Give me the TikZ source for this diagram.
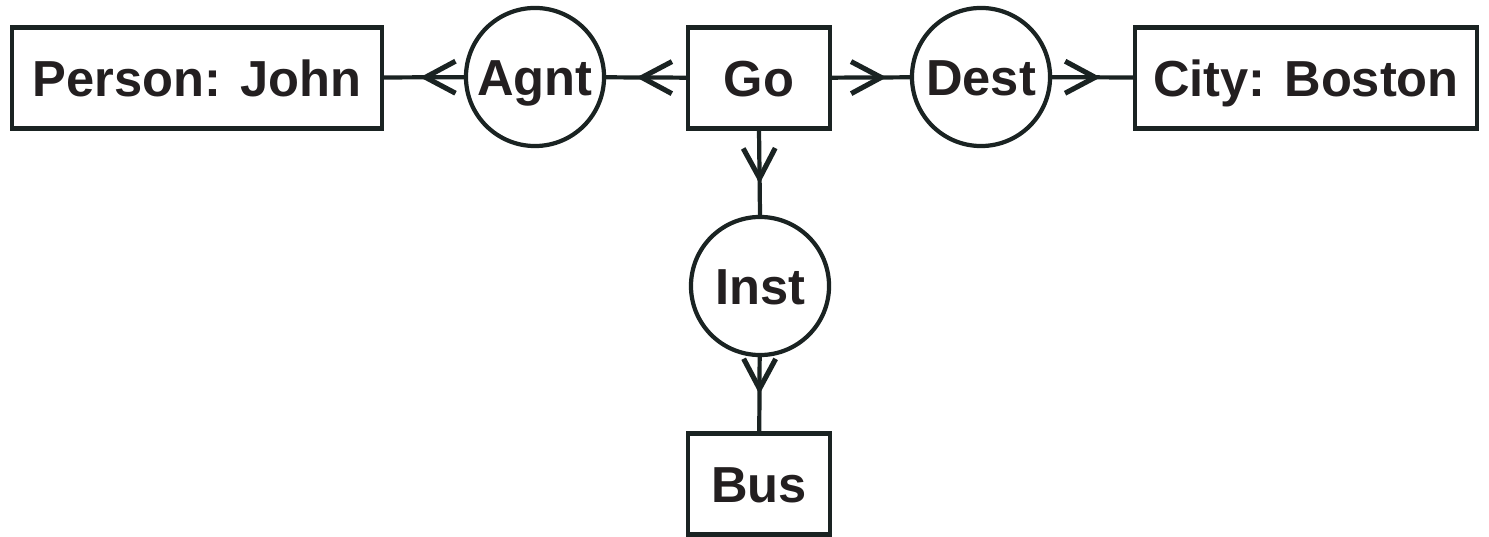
\documentclass[tikz,border=0pt]{standalone}
\usepackage{fontspec}
\setmainfont{Liberation Sans}
\usetikzlibrary{arrows.meta,decorations.markings}
\definecolor{ink}{HTML}{1A2322}
\definecolor{txt}{HTML}{231F20}
\tikzset{
  concept/.style={draw=ink, line width=1.2pt, rectangle, inner sep=0pt, minimum height=1.01cm,
    font=\fontsize{14.4}{17}\selectfont\bfseries, text=txt, text height=10.3pt, text depth=0pt},
  relation/.style={draw=ink, line width=1.2pt, circle, inner sep=0pt, minimum size=1.38cm,
    font=\fontsize{14.4}{17}\selectfont\bfseries, text=txt, text height=10.3pt, text depth=0pt},
  conn/.style={draw=ink, line width=1.2pt, postaction={decorate},
    decoration={markings, mark=at position #1 with {\arrow{Straight Barb[length=3mm, width=3.2mm, line width=1.45pt]}}}},
  conn/.default=0.6
}
\begin{document}
\begin{tikzpicture}[x=0.01cm, y=-0.01cm]
\useasboundingbox (0,0) rectangle (1489,537);
\node[concept, minimum width=3.70cm] (person) at (197,78) {Person: John};
\node[relation] (agnt) at (535,77) {Agnt};
\node[concept, minimum width=1.42cm] (go) at (759,78) {Go};
\node[relation] (dest) at (981,77) {Dest};
\node[concept, minimum width=3.42cm] (city) at (1306,78) {City: Boston};
\node[relation] (inst) at (760,286) {Inst};
\node[concept, minimum width=1.42cm] (bus) at (759,484) {Bus};
\draw[conn=0.55] (agnt) -- (person);
\draw[conn=0.62] (go) -- (agnt);
\draw[conn=0.7] (go) -- (dest);
\draw[conn=0.6] (dest) -- (city);
\draw[conn=0.63] (go.south) -- (inst.north);
\draw[conn=0.5] (inst) -- (bus);
\end{tikzpicture}
\end{document}
